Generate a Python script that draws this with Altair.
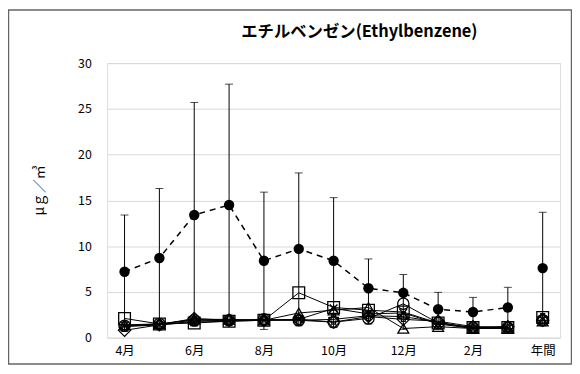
import altair as alt
import pandas as pd

categories = ["4月", "5月", "6月", "7月", "8月", "9月", "10月", "11月", "12月", "1月", "2月", "3月", "年間"]
tick_labels = ["4月", "6月", "8月", "10月", "12月", "2月", "年間"]
chart_title = ["エチルベンゼン(Ethylbenzene)"]

mean_vals = [7.2, 8.7, 13.4, 14.5, 8.4, 9.7, 8.4, 5.4, 4.9, 3.1, 2.8, 3.3, 7.6]
max_vals = [13.4, 16.3, 25.7, 27.7, 15.9, 18.0, 15.3, 8.6, 6.9, 4.95, 4.4, 5.5, 13.7]
min_vals = [0.7, 1.1, 1.3, 1.5, 0.9, 1.3, 1.1, 1.5, 0.9, 0.9, 0.8, 0.8, 1.4]

site_square = [2.1, 1.5, 1.6, 1.8, 1.9, 4.9, 3.3, 3.0, 2.8, 1.6, 1.1, 1.1, 2.2]
site_diamond = [0.8, 1.4, 2.1, 1.9, 1.9, 2.0, 1.7, 2.3, 2.0, 1.8, 1.2, 1.2, 1.9]
site_triangle = [1.4, 1.5, 2.0, 2.0, 1.9, 2.7, 3.0, 3.3, 1.0, 1.2, 1.0, 1.0, 1.8]
site_circle = [1.3, 1.5, 1.9, 1.9, 2.0, 1.9, 1.7, 2.1, 3.7, 1.6, 1.1, 1.1, 1.9]
site_cross = [1.3, 1.4, 1.7, 1.8, 1.9, 2.0, 3.2, 2.6, 2.7, 1.5, 1.0, 1.0, 2.0]
site_plus = [1.2, 1.4, 1.8, 1.9, 1.9, 1.9, 2.0, 2.4, 2.3, 1.7, 1.0, 1.2, 2.1]

FONT = "Noto Sans CJK JP"
W, H = 457, 277

sites = [
    ("square", site_square, "square", 140),
    ("diamond", site_diamond, "diamond", 150),
    ("triangle", site_triangle, "triangle-up", 120),
    ("circle", site_circle, "circle", 130),
    ("cross", site_cross, "M-1,-1L1,1M-1,1L1,-1", 60),
    ("plus", site_plus, "cross", 90),
]

x_enc = alt.X(
    "cat:N",
    sort=categories,
    scale=alt.Scale(type="point", padding=0.5, domain=categories),
    axis=alt.Axis(values=tick_labels, title=None, labelAngle=0, ticks=False,
                  domain=False, labelPadding=7, labelFontSize=12.5, labelFont=FONT,
                  labelColor="#000"),
)
y_scale = alt.Scale(domain=[0, 30], nice=False)
y_enc = alt.Y(
    "v:Q",
    scale=y_scale,
    axis=alt.Axis(values=[0, 5, 10, 15, 20, 25, 30], title="μｇ／㎥", ticks=False, domain=False,
                  labelPadding=16, labelFontSize=12.5, labelFont=FONT, labelColor="#000",
                  gridColor="#d9d9d9", gridWidth=1,
                  titleFont=FONT, titleFontSize=14, titleFontWeight="normal", titleColor="#000",
                  titleAngle=-90, titleX=-68, titleY=128, titleAlign="center",
                  titleBaseline="middle"),
)

layers = []

err_df = pd.DataFrame({"cat": categories, "lo": min_vals, "hi": max_vals, "v": mean_vals})

base_axes = alt.Chart(err_df).mark_point(opacity=0).encode(x=x_enc, y=y_enc)
rules = alt.Chart(err_df).mark_rule(color="#000", strokeWidth=1).encode(
    x=x_enc, y=alt.Y("lo:Q", scale=y_scale), y2="hi:Q"
)
caps_hi = alt.Chart(err_df).mark_tick(color="#000", thickness=1, size=8).encode(
    x=x_enc, y=alt.Y("hi:Q", scale=y_scale)
)
caps_lo = alt.Chart(err_df).mark_tick(color="#000", thickness=1, size=8).encode(
    x=x_enc, y=alt.Y("lo:Q", scale=y_scale)
)
layers += [base_axes, rules, caps_hi, caps_lo]

for name, vals, shape, size in sites:
    df = pd.DataFrame({"cat": categories, "v": vals})
    line = alt.Chart(df.iloc[:-1]).mark_line(color="#000", strokeWidth=1).encode(
        x=x_enc, y=alt.Y("v:Q", scale=y_scale)
    )
    pts = alt.Chart(df).mark_point(shape=shape, size=size, filled=False, color="#000",
                                   strokeWidth=1.3, opacity=1).encode(
        x=x_enc, y=alt.Y("v:Q", scale=y_scale)
    )
    layers += [line, pts]

mean_df = pd.DataFrame({"cat": categories, "v": mean_vals})
mean_line = alt.Chart(mean_df.iloc[:-1]).mark_line(color="#000", strokeWidth=1.5,
                                                   strokeDash=[6, 5]).encode(
    x=x_enc, y=alt.Y("v:Q", scale=y_scale)
)
mean_pts = alt.Chart(mean_df).mark_point(shape="circle", size=110, filled=True, color="#000",
                                         opacity=1).encode(
    x=x_enc, y=alt.Y("v:Q", scale=y_scale)
)
layers += [mean_line, mean_pts]

# chart title as text
title_df = pd.DataFrame({"t": chart_title})
title_mark = alt.Chart(title_df).mark_text(font=FONT, fontSize=16.5, fontWeight="bold",
                                           color="#000", align="center",
                                           baseline="middle").encode(
    text="t:N", x=alt.value(W / 2 + 26), y=alt.value(-31)
)

# frame around the whole chart
frame_df = pd.DataFrame({"k": [0]})
frame = alt.Chart(frame_df).mark_rect(fill=None, stroke="#666", strokeWidth=1.5).encode(
    x=alt.value(-99.5), x2=alt.value(W + 11.5), y=alt.value(-53.5), y2=alt.value(H + 26.5)
)
layers += [title_mark, frame]

chart = alt.layer(*layers).properties(
    width=W, height=H,
    autosize=alt.AutoSizeParams(type="none"),
    padding={"left": 100, "top": 54, "right": 12, "bottom": 27},
).configure_view(stroke="#222", strokeWidth=1.5).configure(background="white")

chart.save("out.html", embed_options={"renderer": "svg", "actions": False})
